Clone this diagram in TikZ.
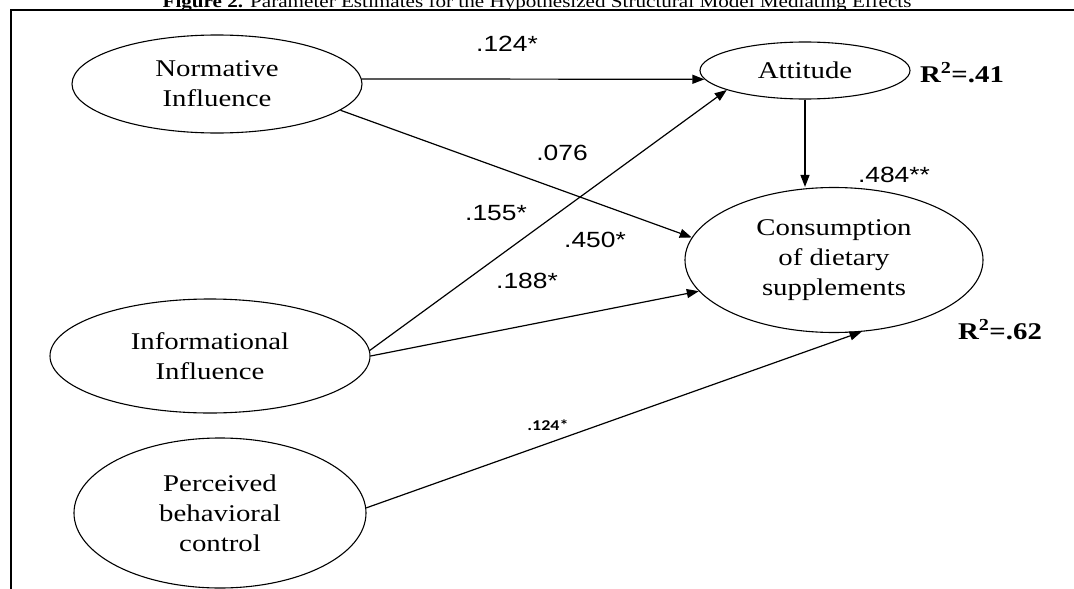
\documentclass[tikz,border=0pt]{standalone}
\usepackage{fontspec}
\usetikzlibrary{shapes.geometric,arrows.meta}
\setmainfont{Liberation Serif}
\newfontfamily\ellfont[FakeStretch=1.2]{Liberation Serif}
\newfontfamily\labfont[FakeStretch=1.2]{Liberation Sans}
\newfontfamily\smlfont[FakeStretch=1.2]{Carlito}
\begin{document}
\begin{tikzpicture}[x=1pt,y=-1pt,
  ell/.style={draw, ellipse, line width=1.1pt, inner sep=0pt, align=center,
    font=\ellfont\fontsize{24}{30}\selectfont},
  conn/.style={line width=1.2pt, -{Triangle[length=12pt,width=9pt]}},
  lab/.style={font=\labfont\fontsize{22}{24}\selectfont, inner sep=0pt},
  smlab/.style={font=\smlfont\bfseries\fontsize{15}{16}\selectfont, inner sep=0pt},
  rsq/.style={font=\ellfont\bfseries\fontsize{24}{26}\selectfont, inner sep=0pt},
  ttl/.style={font=\ellfont\fontsize{17.6}{20}\selectfont, inner sep=0pt, anchor=base}]
\useasboundingbox (0,0) rectangle (1074,589);
% frame
\draw[line width=1.8pt] (1090,10) -- (11,10) -- (11,600);
% title
\node[ttl] (title) at (537,7) {\textbf{Figure 2.} Parameter Estimates for the Hypothesized Structural Model Mediating Effects};
% ellipses
\node[ell, minimum width=290pt, minimum height=98pt] (norm) at (217,84) {Normative\\Influence};
\node[ell, minimum width=210pt, minimum height=57pt] (att) at (805,70.5) {Attitude};
\node[ell, minimum width=298pt, minimum height=145pt] (cons) at (834,260) {Consumption\\of dietary\\supplements};
\node[ell, minimum width=320pt, minimum height=114pt] (info) at (210,356) {Informational\\Influence};
\node[ell, minimum width=292pt, minimum height=150pt] (perc) at (220,513) {Perceived\\behavioral\\control};
% connectors
\draw[conn] (norm.2) -- (att.185);
\draw[conn] (norm.-12) -- (cons.171.8);
\draw[conn] (info.2) -- (att.194);
\draw[conn] (info.0) -- (cons.193.4);
\draw[conn] (perc.2) -- (cons.-69);
\draw[conn] (att.south) -- (att.south |- cons.north);
% labels
\node[lab] (l1) at (507,44) {.124*};
\node[lab] (l2) at (562,153) {.076};
\node[lab] (l3) at (496,213) {.155*};
\node[lab] (l4) at (595,240) {.450*};
\node[lab] (l5) at (527,281) {.188*};
\node[smlab] (l6) at (548,425) {.124*};
\node[lab] (l7) at (894,175) {.484**};
\node[rsq] (r1) at (962,73) {R\textsuperscript{2}=.41};
\node[rsq] (r2) at (1000,330) {R\textsuperscript{2}=.62};
\end{tikzpicture}
\end{document}
